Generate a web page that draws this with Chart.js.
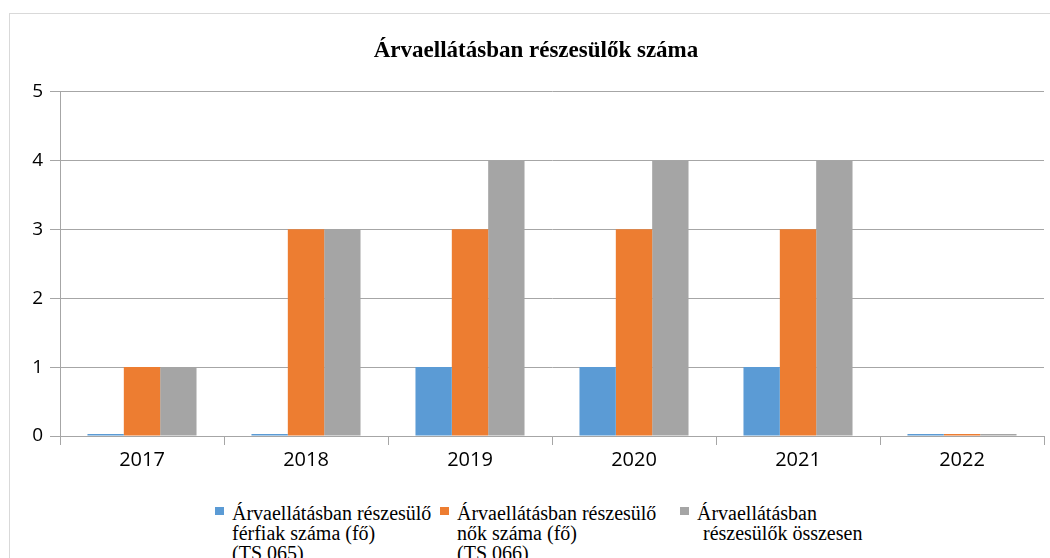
<!DOCTYPE html>
<html>
<head>
<meta charset="utf-8">
<script src="https://cdn.jsdelivr.net/npm/chart.js@4.4.0/dist/chart.umd.min.js"></script>
<style>
  html, body { margin: 0; padding: 0; overflow: hidden; background: #fff; width: 1050px; height: 558px; }
  #frame { position: absolute; left: 9px; top: 13px; width: 1100px; height: 600px; border: 1px solid #d9d9d9; }
  #wrap { position: absolute; left: 0; top: 0; width: 1050px; height: 483px; }
  #legend { position: absolute; left: 0; top: 503px; width: 1050px; font-family: "Liberation Serif", serif; font-size: 20px; line-height: 20px; color: #000; }
  .item { position: absolute; top: 0; display: flex; align-items: flex-start; }
  .item:nth-child(1) { left: 215px; }
  .item:nth-child(2) { left: 440px; }
  .item:nth-child(3) { left: 680px; }
  .box { width: 9px; height: 8px; margin-top: 4px; margin-right: 8px; flex: none; }
  .txt { white-space: nowrap; }
</style>
</head>
<body>
<div id="frame"></div>
<div id="wrap"><canvas id="orphanChart"></canvas></div>
<div id="legend"></div>
<script>
// Adatok
const years = ["2017", "2018", "2019", "2020", "2021", "2022"];
const ferfiak = [0, 0, 1, 1, 1, 0];
const nok = [1, 3, 3, 3, 3, 0];
const osszesen = [1, 3, 4, 4, 4, 0];
const yTicks = [0, 1, 2, 3, 4, 5];
const seriesNames = [
  ["Árvaellátásban részesülő", "férfiak száma (fő)", "(TS 065)"],
  ["Árvaellátásban részesülő", "nők száma (fő)", "(TS 066)"],
  ["Árvaellátásban", "részesülők összesen"],
];
const colors = ["#5b9bd5", "#ed7d31", "#a5a5a5"];

const ctx = document.getElementById("orphanChart").getContext("2d");
const chart = new Chart(ctx, {
  type: "bar",
  data: {
    labels: years,
    datasets: [
      { label: seriesNames[0].join(" "), data: ferfiak, backgroundColor: colors[0] },
      { label: seriesNames[1].join(" "), data: nok, backgroundColor: colors[1] },
      { label: seriesNames[2].join(" "), data: osszesen, backgroundColor: colors[2] },
    ],
  },
  options: {
    responsive: true,
    maintainAspectRatio: false,
    animation: false,
    categoryPercentage: 0.665,
    barPercentage: 1,
    minBarLength: 2,
    layout: { padding: { left: 28, right: 6, top: 37, bottom: 8 } },
    plugins: {
      title: {
        display: true,
        text: "Árvaellátásban részesülők száma",
        color: "#000",
        font: { family: "Liberation Serif", size: 23, weight: "bold" },
        padding: { top: 0, bottom: 27 },
      },
      legend: { display: false },
      tooltip: { enabled: false },
    },
    scales: {
      x: {
        grid: { drawOnChartArea: false, drawTicks: true, tickLength: 9, color: "#a6a6a6" },
        border: { color: "#a6a6a6" },
        ticks: { color: "#000", font: { family: "Open Sans", size: 20 }, padding: 3 },
      },
      y: {
        min: 0,
        max: 5,
        afterBuildTicks: (axis) => {
          axis.ticks = yTicks.map((v) => ({ value: v }));
        },
        afterFit: (axis) => {
          axis.width = 32;
        },
        grid: { color: "#a6a6a6", tickLength: 10 },
        border: { color: "#a6a6a6" },
        ticks: { color: "#000", font: { family: "Open Sans", size: 19 }, padding: 7 },
      },
    },
  },
});

// HTML legend (tobbsoros feliratok)
const legendEl = document.getElementById("legend");
chart.data.datasets.forEach((ds, i) => {
  const item = document.createElement("div");
  item.className = "item";
  const box = document.createElement("span");
  box.className = "box";
  box.style.background = ds.backgroundColor;
  const txt = document.createElement("div");
  txt.className = "txt";
  seriesNames[i].forEach((line, j) => {
    const l = document.createElement("div");
    l.textContent = line;
    if (i === 2 && j === 1) l.style.marginLeft = "6px";
    txt.appendChild(l);
  });
  item.appendChild(box);
  item.appendChild(txt);
  legendEl.appendChild(item);
});
</script>
</body>
</html>
